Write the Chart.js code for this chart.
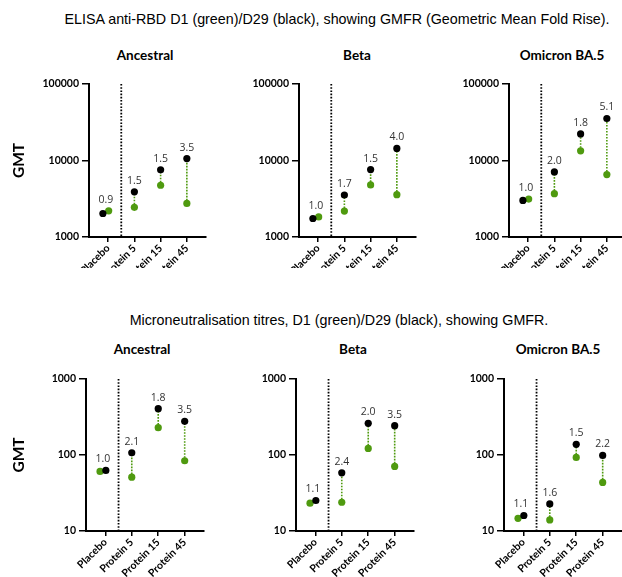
<!DOCTYPE html>
<html>
<head>
<meta charset="utf-8">
<script src="https://cdn.jsdelivr.net/npm/chart.js@4"></script>
<style>
body { margin: 0; background: #fff; }
#page { position: relative; width: 622px; height: 577px; overflow: hidden; }
.main { position: absolute; width: 640px; text-align: center; font-family: "Liberation Sans", Arial, sans-serif; font-size: 14.3px; line-height: 16px; color: #000; white-space: nowrap; }
.ptitle { position: absolute; width: 200px; text-align: center; font-family: Lato, sans-serif; font-weight: 700; font-size: 13.5px; line-height: 16px; color: #000; }
canvas { position: absolute; }
</style>
</head>
<body>
<div id="page">
  <div class="main" style="left:17px; top:11px">ELISA anti-RBD D1 (green)/D29 (black), showing GMFR (Geometric Mean Fold Rise).</div>
  <div class="ptitle" style="left:45px; top:47px">Ancestral</div>
  <div class="ptitle" style="left:257px; top:47px">Beta</div>
  <div class="ptitle" style="left:462px; top:47px">Omicron BA.5</div>

  <div class="main" style="left:19px; top:312px">Microneutralisation titres, D1 (green)/D29 (black), showing GMFR.</div>
  <div class="ptitle" style="left:42px; top:341px">Ancestral</div>
  <div class="ptitle" style="left:253px; top:341px">Beta</div>
  <div class="ptitle" style="left:458px; top:341px">Omicron BA.5</div>

  <canvas id="c1" width="210" height="194" style="left:0px; top:74px"></canvas>
  <canvas id="c2" width="210" height="194" style="left:210px; top:74px"></canvas>
  <canvas id="c3" width="210" height="194" style="left:420px; top:74px"></canvas>
  <canvas id="c4" width="210" height="208" style="left:0px; top:369px"></canvas>
  <canvas id="c5" width="210" height="208" style="left:210px; top:369px"></canvas>
  <canvas id="c6" width="210" height="208" style="left:420px; top:369px"></canvas>
</div>
<script>
const categories = ['Placebo', 'Protein 5', 'Protein 15', 'Protein 45'];

const elisaTicks = [1000, 10000, 100000];
const mnTicks = [10, 100, 1000];

// ELISA anti-RBD GMT
const elisaAncestralD1 = [2200, 2440, 4750, 2750];
const elisaAncestralD29 = [2030, 3900, 7550, 10600];
const elisaAncestralGmfr = ['0.9', '1.5', '1.5', '3.5'];

const elisaBetaD1 = [1830, 2180, 4790, 3570];
const elisaBetaD29 = [1745, 3540, 7620, 14400];
const elisaBetaGmfr = ['1.0', '1.7', '1.5', '4.0'];

const elisaOmicronD1 = [3130, 3680, 13400, 6540];
const elisaOmicronD29 = [3010, 7100, 22250, 35400];
const elisaOmicronGmfr = ['1.0', '2.0', '1.8', '5.1'];

// Microneutralisation GMT
const mnAncestralD1 = [60.8, 51, 229, 84];
const mnAncestralD29 = [62.7, 107, 407, 277];
const mnAncestralGmfr = ['1.0', '2.1', '1.8', '3.5'];

const mnBetaD1 = [23.2, 23.9, 122, 70.8];
const mnBetaD29 = [25.2, 58.2, 261, 243];
const mnBetaGmfr = ['1.1', '2.4', '2.0', '3.5'];

const mnOmicronD1 = [14.7, 14.0, 92.9, 43.5];
const mnOmicronD29 = [16.0, 22.7, 138, 98.8];
const mnOmicronGmfr = ['1.1', '1.6', '1.5', '2.2'];

const GREEN = '#4f9a0f';
const AXIS_FONT = { family: 'Lato', weight: 'bold', size: 10.5 };

// separator between placebo and the protein groups + GMFR labels
function makeAnnotate(d1, d29, gmfr, sh1, sh29) {
    return {
        id: 'annotate',
        beforeDatasetsDraw(chart) {
            const { ctx, chartArea, scales: { x } } = chart;
            const px = x.getPixelForValue(0.5);
            ctx.save();
            ctx.strokeStyle = '#000';
            ctx.lineWidth = 1.8;
            ctx.setLineDash([1.6, 1.6]);
            ctx.beginPath();
            ctx.moveTo(px, chartArea.top);
            ctx.lineTo(px, chartArea.bottom);
            ctx.stroke();
            ctx.restore();
        },
        afterDatasetsDraw(chart) {
            const { ctx, scales: { x, y } } = chart;
            ctx.save();
            ctx.fillStyle = '#333';
            ctx.font = '10.5px "Open Sans"';
            ctx.textAlign = 'center';
            ctx.textBaseline = 'middle';
            gmfr.forEach((label, i) => {
                const xv = i === 0 ? (sh1 + sh29) / 2 : i;
                const top = Math.max(d1[i], d29[i]);
                ctx.fillText(label, x.getPixelForValue(xv), y.getPixelForValue(top) - 11);
            });
            ctx.restore();
        }
    };
}

function makePanel(id, d1, d29, gmfr, yTicks, opts) {
    const datasets = [];
    // dotted green connectors D1 -> D29
    for (let i = 1; i < categories.length; i++) {
        datasets.push({
            data: [{ x: i, y: d1[i] }, { x: i, y: d29[i] }],
            showLine: true,
            borderColor: GREEN,
            borderWidth: 1.6,
            borderDash: [1.6, 1.4],
            pointRadius: 0,
            order: 3
        });
    }
    datasets.push({
        label: 'D1',
        data: d1.map((v, i) => ({ x: i + (i === 0 ? opts.sh1 : 0), y: v })),
        backgroundColor: GREEN,
        borderWidth: 0,
        pointRadius: 3.6,
        order: 2
    });
    datasets.push({
        label: 'D29',
        data: d29.map((v, i) => ({ x: i + (i === 0 ? opts.sh29 : 0), y: v })),
        backgroundColor: '#000',
        borderWidth: 0,
        pointRadius: 3.6,
        order: 1
    });

    new Chart(document.getElementById(id), {
        type: 'scatter',
        data: { datasets: datasets },
        options: {
            responsive: false,
            animation: false,
            devicePixelRatio: 1,
            layout: { padding: { top: opts.padTop, right: opts.padRight, left: 0, bottom: 0 } },
            plugins: { legend: { display: false }, tooltip: { enabled: false } },
            scales: {
                x: {
                    type: 'linear',
                    min: -0.73,
                    max: 3.73,
                    afterBuildTicks: s => { s.ticks = categories.map((c, i) => ({ value: i })); },
                    afterFit: s => { s.height = opts.xH; },
                    ticks: {
                        callback: v => categories[v],
                        autoSkip: false,
                        minRotation: 45,
                        maxRotation: 45,
                        color: '#000',
                        font: AXIS_FONT,
                        padding: 0
                    },
                    grid: { drawOnChartArea: false, color: '#000', lineWidth: 1.5, tickLength: 5 },
                    border: { color: '#000', width: 2 }
                },
                y: {
                    type: 'logarithmic',
                    min: yTicks[0],
                    max: yTicks[yTicks.length - 1],
                    afterBuildTicks: s => { s.ticks = yTicks.map(v => ({ value: v })); },
                    afterFit: s => { s.width = opts.yW; },
                    ticks: { callback: v => String(v), color: '#000', font: AXIS_FONT, padding: 3 },
                    grid: { drawOnChartArea: false, color: '#000', lineWidth: 1.5, tickLength: 7 },
                    border: { color: '#000', width: 2 },
                    title: {
                        display: !!opts.showTitle,
                        text: 'GMT',
                        color: '#000',
                        font: { family: 'Lato', weight: 'bold', size: 15.5 },
                        padding: { top: 10, bottom: 0 }
                    }
                }
            }
        },
        plugins: [makeAnnotate(d1, d29, gmfr, opts.sh1, opts.sh29)]
    });
}

const topRow = { padTop: 10, xH: 31, sh1: 0.02, sh29: -0.2 };
const bottomRow = { padTop: 10, xH: 46, sh1: -0.2, sh29: 0.02 };

makePanel('c1', elisaAncestralD1, elisaAncestralD29, elisaAncestralGmfr, elisaTicks,
    Object.assign({}, topRow, { yW: 89, padRight: 3, showTitle: true }));
makePanel('c2', elisaBetaD1, elisaBetaD29, elisaBetaGmfr, elisaTicks,
    Object.assign({}, topRow, { yW: 89, padRight: 3 }));
makePanel('c3', elisaOmicronD1, elisaOmicronD29, elisaOmicronGmfr, elisaTicks,
    Object.assign({}, topRow, { yW: 89, padRight: 3 }));

makePanel('c4', mnAncestralD1, mnAncestralD29, mnAncestralGmfr, mnTicks,
    Object.assign({}, bottomRow, { yW: 86, padRight: 6, showTitle: true }));
makePanel('c5', mnBetaD1, mnBetaD29, mnBetaGmfr, mnTicks,
    Object.assign({}, bottomRow, { yW: 86, padRight: 6 }));
makePanel('c6', mnOmicronD1, mnOmicronD29, mnOmicronGmfr, mnTicks,
    Object.assign({}, bottomRow, { yW: 84, padRight: 8 }));
</script>
</body>
</html>
